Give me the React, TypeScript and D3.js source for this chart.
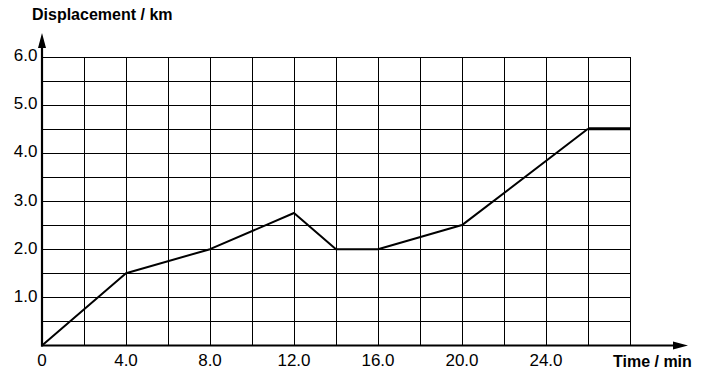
import React from "react";
import * as d3 from "d3";

const times = [0, 4, 8, 12, 14, 16, 20, 26];
const displacement = [0, 1.5, 2, 2.75, 2, 2, 2.5, 4.5];
const flatTimes = [26, 28];
const flatDisplacement = [4.5, 4.5];
const xTickValues = [0, 4, 8, 12, 16, 20, 24];
const xTickLabels = ["0", "4.0", "8.0", "12.0", "16.0", "20.0", "24.0"];
const yTickValues = [1, 2, 3, 4, 5, 6];
const yTickLabels = ["1.0", "2.0", "3.0", "4.0", "5.0", "6.0"];
const xGrid = d3.range(2, 28.001, 2);
const yGrid = d3.range(0.5, 6.001, 0.5);

export default function App() {
  const W = 703, H = 380;
  const x = d3.scaleLinear().domain([0, 28]).range([42, 630]);
  const y = d3.scaleLinear().domain([0, 6]).range([345.5, 56.5]);
  const crisp = (v: number) => Math.round(v) + 0.5;
  const line = d3.line<number>().x((_, i) => x(times[i])).y((d) => y(d));
  const flat = d3.line<number>().x((_, i) => x(flatTimes[i])).y((d) => y(d));
  const font = "Arial, 'Liberation Sans', Helvetica, sans-serif";
  const x0 = x(0), y0 = y(0);
  return (
    <svg width={W} height={H} style={{ position: "absolute", left: 0, top: 0, background: "#fff" }} fontFamily={font}>
      <rect width={W} height={H} fill="#fff" />
      {xGrid.map((t) => (
        <line key={"vx" + t} x1={crisp(x(t))} x2={crisp(x(t))} y1={crisp(y(6))} y2={y0} stroke="#000" strokeWidth={1} />
      ))}
      {yGrid.map((v) => (
        <line key={"hy" + v} x1={x0} x2={crisp(x(28)) + 0.5} y1={crisp(y(v))} y2={crisp(y(v))} stroke="#000" strokeWidth={1} />
      ))}
      {/* axes */}
      <line x1={x0} x2={x0} y1={y0 + 1} y2={44} stroke="#000" strokeWidth={2.2} />
      <path d={`M${x0 - 4},${48} L${x0},${33} L${x0 + 4},${48} Z`} fill="#000" />
      <line x1={x0 - 1} x2={676} y1={y0} y2={y0} stroke="#000" strokeWidth={2.2} />
      <path d={`M${673},${y0 - 4} L${688},${y0} L${673},${y0 + 4} Z`} fill="#000" />
      {/* data */}
      <path d={line(displacement) || ""} fill="none" stroke="#000" strokeWidth={2} strokeLinejoin="round" />
      <path d={flat(flatDisplacement) || ""} fill="none" stroke="#000" strokeWidth={3} />
      {/* tick labels */}
      {yTickValues.map((v, i) => (
        <text key={"yl" + v} x={37.5} y={y(v) + 4.5} textAnchor="end" fontSize={17} fill="#000">{yTickLabels[i]}</text>
      ))}
      {xTickValues.map((t, i) => (
        <text key={"xl" + t} x={x(t)} y={366} textAnchor="middle" fontSize={17} fill="#000">{xTickLabels[i]}</text>
      ))}
      <text x={32} y={20} fontSize={16} fontWeight="bold" fill="#000">Displacement / km</text>
      <text x={613} y={367} fontSize={16} fontWeight="bold" fill="#000">Time / min</text>
    </svg>
  );
}
